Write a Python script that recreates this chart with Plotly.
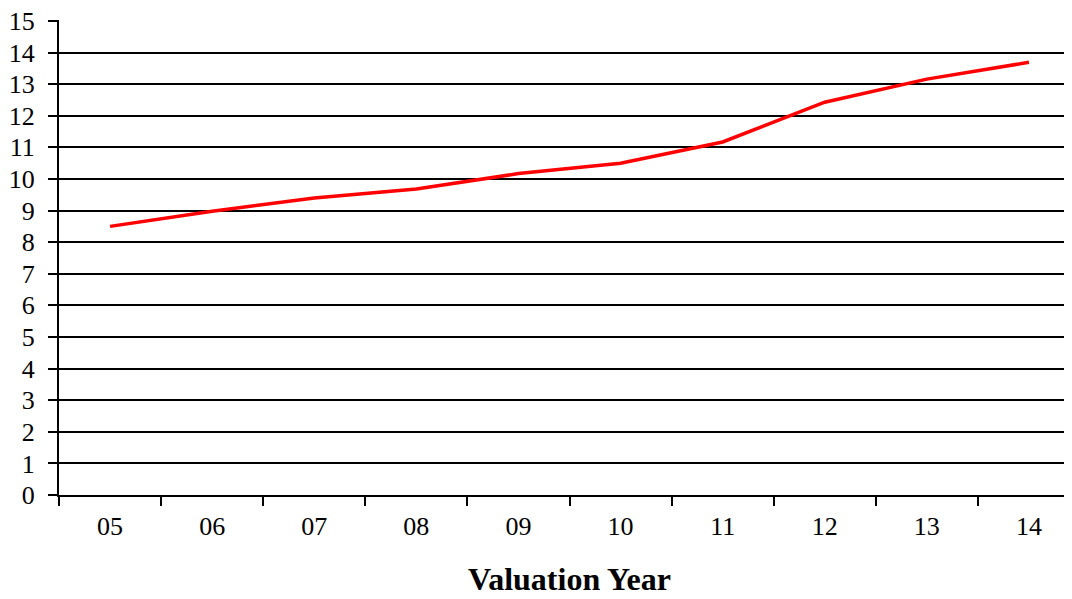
import plotly.graph_objects as go

years = ["05", "06", "07", "08", "09", "10", "11", "12", "13", "14"]
values = [8.5, 8.98, 9.4, 9.68, 10.17, 10.5, 11.17, 12.43, 13.16, 13.69]
y_ticks = list(range(0, 16))

fig = go.Figure()
fig.add_trace(go.Scatter(
    x=years, y=values, mode="lines",
    line=dict(color="#ff0000", width=3.5),
    showlegend=False,
))

font = dict(family="Liberation Serif, Times New Roman, serif", color="#000000")

# page has an 8px body margin, so the figure is offset by (8, 8) on screen
fig.update_layout(
    width=1072, height=599,
    margin=dict(l=51, r=0, t=12, b=112, autoexpand=False),
    paper_bgcolor="white", plot_bgcolor="white",
    font=dict(**font, size=26),
    xaxis=dict(
        type="category",
        range=[-0.5, 9.5],
        tickson="boundaries",
        ticks="outside", ticklen=9, tickwidth=1.5, tickcolor="black",
        showline=True, linecolor="black", linewidth=2,
        showgrid=False, zeroline=False,
        tickfont=dict(**font, size=26),
        ticklabelstandoff=7,
        title=dict(text="<b>Valuation Year</b>", font=dict(**font, size=32), standoff=27),
    ),
    yaxis=dict(
        range=[0, 15.03],
        tickmode="array", tickvals=y_ticks, ticktext=[str(v) for v in y_ticks],
        ticks="outside", ticklen=9, tickwidth=1.5, tickcolor="black",
        showline=True, linecolor="black", linewidth=2,
        showgrid=True, gridcolor="black", gridwidth=1.8,
        zeroline=False,
        tickfont=dict(**font, size=26),
        ticklabelstandoff=8,
        ticklabeloverflow="allow",
    ),
)

fig.write_html("out.html")
